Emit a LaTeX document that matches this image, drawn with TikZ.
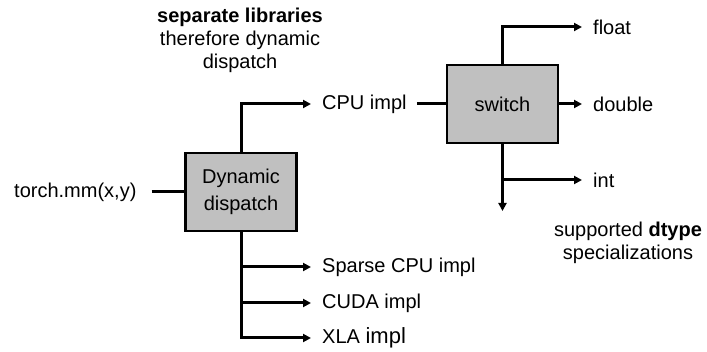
\documentclass[tikz,border=0pt]{standalone}
\usepackage{fontspec}
\setmainfont{Liberation Sans}
\usetikzlibrary{arrows.meta}
\definecolor{boxgray}{RGB}{192,192,192}
\begin{document}
\begin{tikzpicture}[x=1pt,y=-1pt,
  box/.style={draw=black, line width=2.5pt, fill=boxgray, minimum width=111pt, minimum height=78pt, inner sep=0pt, align=center, font=\fontsize{20}{27}\selectfont},
  lbl/.style={font=\fontsize{20}{23}\selectfont, inner sep=0pt, anchor=west},
  note/.style={font=\fontsize{20}{23}\selectfont, inner sep=0pt, align=center},
  wire/.style={line width=3pt},
  arr/.style={line width=3pt, -{Triangle[length=8pt,width=8pt]}}]
\useasboundingbox (0,0) rectangle (707,352);

% top note
\node[note] (sep) at (240,40) {\textbf{separate libraries}\\therefore dynamic\\dispatch};

% dynamic dispatch
\node[box] (dd) at (241,192) {Dynamic\\dispatch};
\node[lbl] (torch) at (14,192) {torch.mm(x,y)};
\draw[wire] ([xshift=15pt]torch.east) -- (dd.west);

\node[lbl] (cpu) at (322,104) {CPU impl};
\node[lbl] (sparse) at (322,267) {Sparse CPU impl};
\node[lbl] (cuda) at (322,303) {CUDA impl};
\node[lbl] (xla) at (322,338) {XLA {\fontsize{22}{23}\selectfont impl}};

\draw[arr] (dd.north) -- (dd.north |- cpu.west) -- ([xshift=-11pt]cpu.west);
\draw[arr] (dd.south) -- (dd.south |- xla.west) -- ([xshift=-11pt]xla.west);
\draw[arr] (dd.south |- sparse.west) -- ([xshift=-11pt]sparse.west);
\draw[arr] (dd.south |- cuda.west) -- ([xshift=-11pt]cuda.west);

% switch
\node[box] (sw) at (502.5,104) {switch};
\draw[wire] ([xshift=10pt]cpu.east) -- (sw.west);

\node[lbl] (float) at (593,27) {float};
\node[lbl] (double) at (593,104) {double};
\node[lbl] (int) at (593,180) {int};
\coordinate (swend) at (502.5,211);

\draw[arr] (sw.north) -- (sw.north |- float.west) -- ([xshift=-11pt]float.west);
\draw[arr] (sw.east) -- ([xshift=-11pt]double.west);
\draw[arr] (sw.south) -- (swend);
\draw[arr] (sw.south |- int.west) -- ([xshift=-11pt]int.west);

% bottom note
\node[note] (sup) at (628,243) {supported \textbf{dtype}\\specializations};
\end{tikzpicture}
\end{document}
